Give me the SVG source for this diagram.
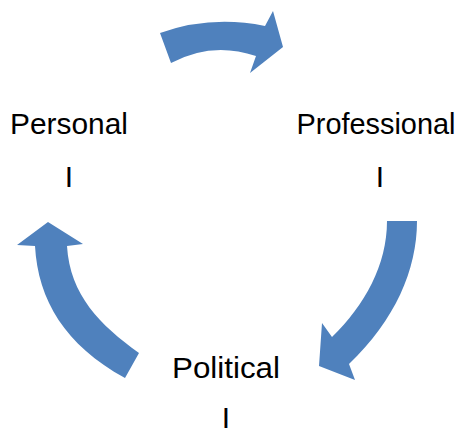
<svg xmlns="http://www.w3.org/2000/svg" width="467" height="433" viewBox="0 0 467 433">
<style>
.arrow{fill:#4F81BD;stroke:none}
.lbl{font-family:"Liberation Sans",Arial,sans-serif;font-size:30px;fill:#000;text-anchor:middle}
</style>
<rect width="467" height="433" fill="#fff"/>
<g id="connectors">
<path class="arrow" d="M160,33 Q211,15 265,26 L273,11 L283,47 L250,73 L256,56 Q212,41 171,63 Z"/>
<path class="arrow" d="M387,221 L417,221 C417,270 395,320 349,364 L355,380 L319,366 L322,323 L332,337 C365,305 387,265 387,221 Z"/>
<path class="arrow" d="M35,246 C38,300 65,345 125,378 L139,353 C100,325 70,295 67,246 L83,244 L48,222 L17,245 Z"/>
</g>
<g id="personal">
<text class="lbl" x="69" y="134" textLength="118" lengthAdjust="spacingAndGlyphs">Personal</text>
<text class="lbl" x="69" y="187">I</text>
</g>
<g id="professional">
<text class="lbl" x="376" y="134" textLength="159" lengthAdjust="spacingAndGlyphs">Professional</text>
<text class="lbl" x="380" y="187">I</text>
</g>
<g id="political">
<text class="lbl" x="226" y="378" textLength="108" lengthAdjust="spacingAndGlyphs">Political</text>
<text class="lbl" x="226" y="428">I</text>
</g>
</svg>
